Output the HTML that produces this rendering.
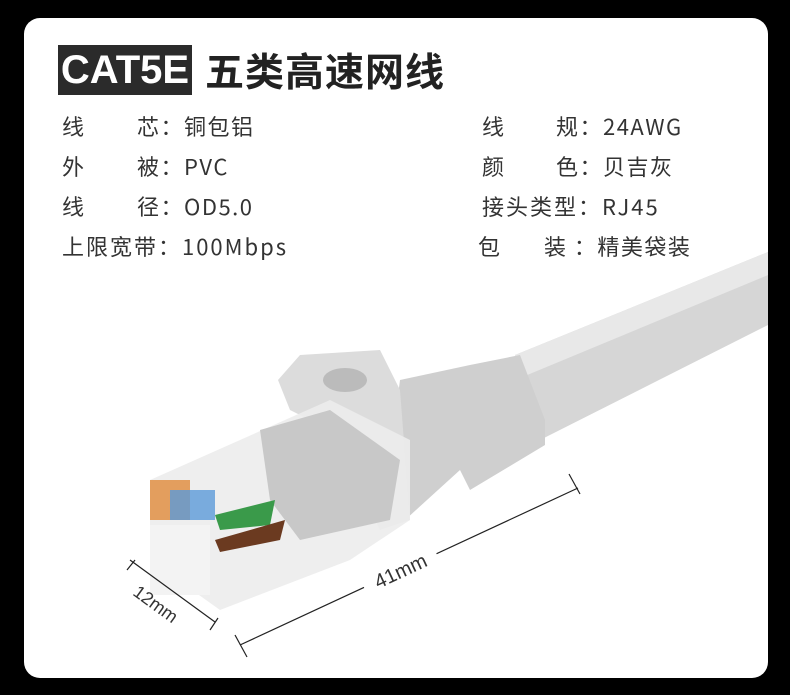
<!DOCTYPE html>
<html><head><meta charset="utf-8"><style>
body{margin:0;width:790px;height:695px;background:#000;position:relative;overflow:hidden;font-family:"Liberation Sans","Noto Sans CJK SC",sans-serif}
.card{position:absolute;left:24px;top:18px;width:744px;height:660px;background:#fff;border-radius:16px}
.tag{position:absolute;left:58px;top:45px;width:134px;height:50px;background:#2b2b2b;color:#fff;font-weight:bold;font-size:40px;line-height:50px;text-align:center}
.title{position:absolute;left:205px;top:41px;font-size:39px;font-weight:bold;color:#222;line-height:58px;font-family:"Noto Sans CJK SC",sans-serif;letter-spacing:1px}
.t{position:absolute;font-size:22px;color:#333;line-height:30px;font-family:"Noto Sans CJK SC",sans-serif;white-space:pre;letter-spacing:1.5px}
svg{position:absolute;left:0;top:0}
</style></head><body>
<div class="card"></div>
<div class="tag">CAT5E</div>
<div class="title">五类高速网线</div>
<div class="t" style="left:62px;top:111px">线</div><div class="t" style="left:137px;top:111px">芯：铜包铝</div>
<div class="t" style="left:62px;top:151px">外</div><div class="t" style="left:137px;top:151px">被：PVC</div>
<div class="t" style="left:62px;top:191px">线</div><div class="t" style="left:137px;top:191px">径：OD5.0</div>
<div class="t" style="left:62px;top:231px;letter-spacing:2px">上限宽带：100Mbps</div>
<div class="t" style="left:482px;top:111px">线</div><div class="t" style="left:556px;top:111px">规：24AWG</div>
<div class="t" style="left:482px;top:151px">颜</div><div class="t" style="left:556px;top:151px">色：贝吉灰</div>
<div class="t" style="left:482px;top:191px;letter-spacing:2px">接头类型：RJ45</div>
<div class="t" style="left:478px;top:231px">包</div><div class="t" style="left:544px;top:231px">装 ：精美袋装</div>
<svg width="790" height="695">
<polygon points="515,355 768,252 768,325 540,440" fill="#d6d6d6"/>
<polygon points="515,355 768,252 768,275 520,378" fill="#e8e8e8"/>
<polygon points="400,380 470,365 520,355 545,420 545,445 470,490 460,470 405,520 390,460" fill="#cfcfcf"/>
<polygon points="278,380 300,355 380,350 400,390 410,520 380,530 330,430 290,410" fill="#dcdcdc"/>
<ellipse cx="345" cy="380" rx="22" ry="12" fill="#bbb"/>
<polygon points="150,480 330,400 410,440 410,520 350,560 220,610 150,560" fill="#ececec" opacity="0.9"/>
<polygon points="260,430 330,410 400,460 390,520 300,540 270,500" fill="#c8c8c8"/>
<rect x="150" y="480" width="40" height="40" fill="#e08a3a" opacity="0.8"/>
<rect x="170" y="490" width="45" height="30" fill="#5b9ad8" opacity="0.8"/>
<polygon points="215,515 275,500 270,525 220,530" fill="#3a9a4a"/>
<polygon points="215,540 285,520 280,540 220,552" fill="#6b3a20"/>
<rect x="150" y="525" width="60" height="70" fill="#f3f3f3"/>
<g stroke="#222" stroke-width="1.2" fill="none">
<line x1="240" y1="645" x2="578" y2="488"/>
<line x1="235" y1="635" x2="247" y2="657"/><line x1="569" y1="474" x2="580" y2="494"/>
<line x1="130" y1="560" x2="215" y2="622"/>
<line x1="127" y1="570" x2="135" y2="560"/><line x1="210" y1="630" x2="218" y2="618"/>
</g>
<rect x="360" y="550" width="80" height="40" fill="#fff" transform="rotate(-25 400 570)"/>
<text x="400" y="578" font-size="20" fill="#333" text-anchor="middle" transform="rotate(-25 400 570)" font-family="Liberation Sans">41mm</text>
<text x="155" y="610" font-size="18" fill="#333" text-anchor="middle" transform="rotate(36 155 605)" font-family="Liberation Sans">12mm</text>
</svg>
</body></html>
